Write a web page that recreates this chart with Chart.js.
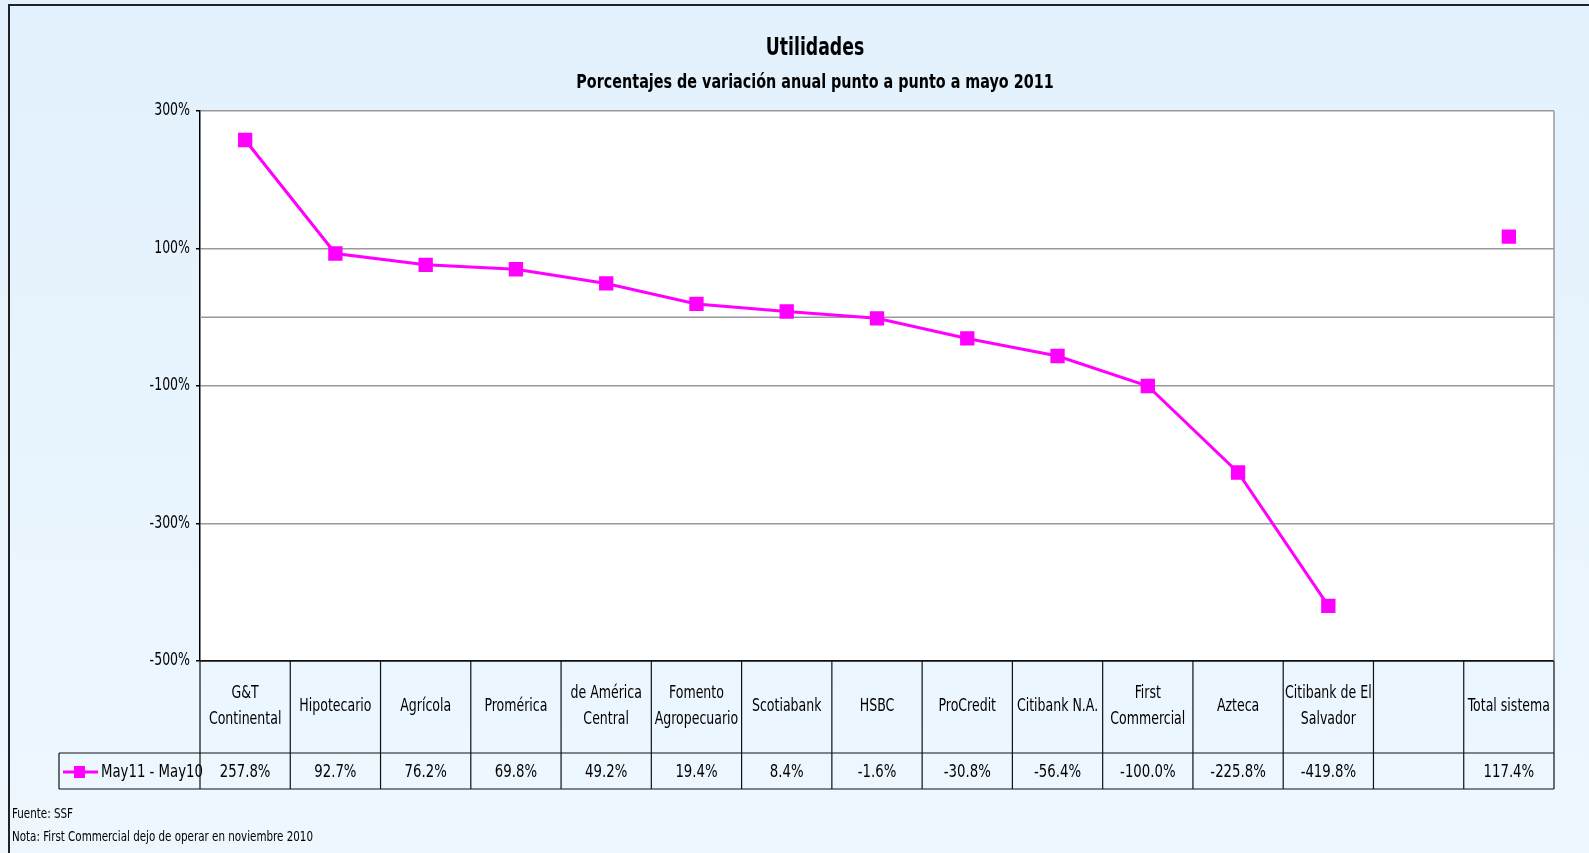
<!DOCTYPE html>
<html lang="es">
<head>
    <meta charset="UTF-8">
    <title>Utilidades</title>
    <script src="https://cdn.jsdelivr.net/npm/chart.js"></script>
    <style>
        html, body { margin: 0; padding: 0; background: #e6f3fd; }
        #wrap { width: 1589px; height: 853px; }
    </style>
</head>
<body>
<div id="wrap"><canvas id="utilChart" width="1589" height="853"></canvas></div>
<script>
    // datos
    const categories = [
        ['G&T', 'Continental'], ['Hipotecario'], ['Agrícola'], ['Promérica'],
        ['de América', 'Central'], ['Fomento', 'Agropecuario'], ['Scotiabank'], ['HSBC'],
        ['ProCredit'], ['Citibank N.A.'], ['First', 'Commercial'], ['Azteca'],
        ['Citibank de El', 'Salvador'], [''], ['Total sistema']
    ];
    const seriesName = 'May11 - May10';
    const variacion = [257.8, 92.7, 76.2, 69.8, 49.2, 19.4, 8.4, -1.6, -30.8, -56.4, -100.0, -225.8, -419.8, null, 117.4];
    const yTicks = [-500, -300, -100, 100, 300];

    const FONT = '"DejaVu Sans Condensed", "Liberation Sans", sans-serif';
    const MAGENTA = '#ff00ff';
    const NARROW = 0.82; // la fuente original es tipo Arial Narrow

    function narrowText(ctx, text, x, y, sx) {
        ctx.save();
        ctx.translate(x, y);
        ctx.scale(sx || NARROW, 1);
        ctx.fillText(text, 0, 0);
        ctx.restore();
    }

    // fondo, titulos, ejes y tabla de datos
    const tablePlugin = {
        id: 'tablePlugin',
        beforeDraw(chart) {
            const { ctx, chartArea: a, width, height } = chart;
            ctx.save();
            const g = ctx.createLinearGradient(0, 0, 0, height);
            g.addColorStop(0, '#e2f1fd');
            g.addColorStop(1, '#eef7fe');
            ctx.fillStyle = g;
            ctx.fillRect(0, 0, width, height);
            ctx.fillStyle = '#ffffff';
            ctx.fillRect(a.left, a.top, a.right - a.left, a.bottom - a.top);
            // marco exterior
            ctx.strokeStyle = '#222';
            ctx.lineWidth = 2;
            ctx.beginPath();
            ctx.moveTo(9, height);
            ctx.lineTo(9, 5);
            ctx.lineTo(width, 5);
            ctx.stroke();

            ctx.fillStyle = '#000';
            ctx.textAlign = 'center';
            ctx.textBaseline = 'middle';
            const cx = 815;
            ctx.font = 'bold 24px ' + FONT;
            narrowText(ctx, 'Utilidades', cx, 49, 0.8);
            ctx.font = 'bold 19px ' + FONT;
            narrowText(ctx, 'Porcentajes de variación anual punto a punto a mayo 2011', cx, 83, 0.84);
            ctx.restore();
        },
        beforeDatasetsDraw(chart) {
            const { ctx, chartArea: a, scales } = chart;
            ctx.save();
            const y0 = scales.y.getPixelForValue(0);
            ctx.strokeStyle = '#999';
            ctx.lineWidth = 1.5;
            ctx.beginPath();
            ctx.moveTo(a.left, y0);
            ctx.lineTo(a.right, y0);
            ctx.moveTo(a.right, a.top);
            ctx.lineTo(a.right, a.bottom);
            ctx.stroke();
            // etiquetas del eje y
            ctx.fillStyle = '#000';
            ctx.textAlign = 'right';
            ctx.textBaseline = 'middle';
            ctx.font = '17px ' + FONT;
            yTicks.forEach(v => narrowText(ctx, v + '%', a.left - 10, scales.y.getPixelForValue(v)));
            ctx.restore();
        },
        afterDraw(chart) {
            const { ctx, chartArea: a, scales } = chart;
            const x = scales.x;
            const colW = (a.right - a.left) / categories.length;
            const headTop = a.bottom, headBot = a.bottom + 92, valBot = headBot + 36;
            ctx.save();
            ctx.strokeStyle = '#111';
            ctx.lineWidth = 1.2;
            ctx.beginPath();
            ctx.moveTo(a.left, headTop); ctx.lineTo(a.right, headTop);
            ctx.moveTo(59, headBot); ctx.lineTo(a.right, headBot);
            ctx.moveTo(59, valBot); ctx.lineTo(a.right, valBot);
            ctx.moveTo(59, headBot); ctx.lineTo(59, valBot);
            for (let i = 0; i <= categories.length; i++) {
                const cx = i < categories.length ? x.getPixelForValue(i) - colW / 2 : a.right;
                ctx.moveTo(cx, headTop); ctx.lineTo(cx, valBot);
            }
            ctx.stroke();

            ctx.fillStyle = '#000';
            ctx.textAlign = 'center';
            ctx.textBaseline = 'middle';
            categories.forEach((lines, i) => {
                const cx = x.getPixelForValue(i);
                const mid = (headTop + headBot) / 2;
                ctx.font = '17px ' + FONT;
                lines.forEach((t, k) => {
                    narrowText(ctx, t, cx, mid + (k - (lines.length - 1) / 2) * 26);
                });
                const v = variacion[i];
                ctx.font = '18px ' + FONT;
                narrowText(ctx, v === null ? '' : v.toFixed(1) + '%', cx, (headBot + valBot) / 2 + 1);
            });

            // leyenda en la tabla
            const ly = (headBot + valBot) / 2 + 1;
            ctx.strokeStyle = MAGENTA;
            ctx.lineWidth = 3;
            ctx.beginPath();
            ctx.moveTo(63, ly); ctx.lineTo(98, ly);
            ctx.stroke();
            ctx.fillStyle = MAGENTA;
            ctx.fillRect(74, ly - 6, 11, 12);
            ctx.fillStyle = '#000';
            ctx.textAlign = 'left';
            ctx.font = '18px ' + FONT;
            narrowText(ctx, seriesName, 101, ly);

            // notas
            ctx.font = '14px ' + FONT;
            narrowText(ctx, 'Fuente: SSF', 12, 814);
            narrowText(ctx, 'Nota: First Commercial dejo de operar en noviembre 2010', 12, 837);
            ctx.restore();
        }
    };

    new Chart(document.getElementById('utilChart'), {
        type: 'line',
        data: {
            labels: categories,
            datasets: [{
                label: seriesName,
                data: variacion,
                borderColor: MAGENTA,
                backgroundColor: MAGENTA,
                borderWidth: 3,
                pointStyle: 'rect',
                pointRadius: 8,
                pointHoverRadius: 8,
                spanGaps: false,
                tension: 0
            }]
        },
        options: {
            responsive: false,
            animation: false,
            layout: { padding: { left: 0, right: 35, top: 111, bottom: 192 } },
            plugins: {
                legend: { display: false },
                tooltip: { enabled: false }
            },
            scales: {
                x: {
                    type: 'category',
                    display: false,
                    offset: true
                },
                y: {
                    min: -500,
                    max: 300,
                    afterFit(scale) { scale.width = 200; },
                    afterBuildTicks(scale) { scale.ticks = yTicks.map(v => ({ value: v })); },
                    border: { display: true, color: '#000', width: 1.5 },
                    grid: {
                        color: ctx => ctx.tick && ctx.tick.value === -500 ? '#111' : '#999',
                        lineWidth: 1.5,
                        tickLength: 4,
                        tickColor: '#000'
                    },
                    ticks: { display: false }
                }
            }
        },
        plugins: [tablePlugin]
    });
</script>
</body>
</html>
